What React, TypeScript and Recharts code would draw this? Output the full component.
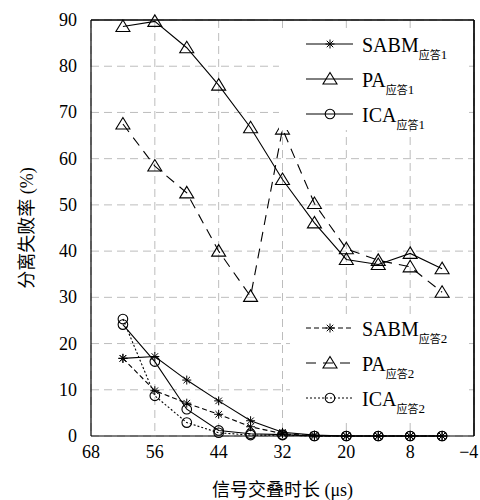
import { LineChart, Line, XAxis, YAxis, CartesianGrid, ReferenceLine } from 'recharts';

const overlapUs = [62, 56, 50, 44, 38, 32, 26, 20, 14, 8, 2];
const sabm1 = [16.8, 17.2, 12.1, 7.6, 3.3, 0.8, 0.2, 0, 0, 0, 0];
const pa1 = [88.6, 89.7, 84.0, 75.9, 66.7, 55.5, 46.1, 38.2, 37.1, 39.5, 36.2];
const ica1 = [24.1, 16.1, 5.8, 1.2, 0.5, 0.3, 0, 0, 0, 0, 0];
const sabm2 = [16.8, 9.8, 7.1, 4.7, 2.0, 0.5, 0, 0, 0, 0, 0];
const pa2 = [67.5, 58.4, 52.6, 40.0, 30.2, 66.4, 50.3, 40.5, 38.0, 36.6, 31.1];
const ica2 = [25.3, 8.7, 2.9, 0.7, 0.2, 0.2, 0, 0, 0, 0, 0];

const xTicks = [68, 56, 44, 32, 20, 8, -4];
const yTicks = [0, 10, 20, 30, 40, 50, 60, 70, 80, 90];

const data = overlapUs.map((x, i) => ({
  x,
  sabm1: sabm1[i],
  pa1: pa1[i],
  ica1: ica1[i],
  sabm2: sabm2[i],
  pa2: pa2[i],
  ica2: ica2[i],
}));

const SERIF = "'Liberation Serif', 'Noto Sans CJK SC', serif";
const CJK = "'Noto Sans CJK SC', sans-serif";

type MarkerKind = 'star' | 'tri' | 'circle';

function Marker({ kind, cx, cy }: { kind: MarkerKind; cx: number; cy: number }) {
  if (kind === 'star') {
    const r = 4.5;
    const d = r * 0.72;
    return (
      <g stroke="#000" strokeWidth={1}>
        <line x1={cx - r} y1={cy} x2={cx + r} y2={cy} />
        <line x1={cx} y1={cy - r} x2={cx} y2={cy + r} />
        <line x1={cx - d} y1={cy - d} x2={cx + d} y2={cy + d} />
        <line x1={cx - d} y1={cy + d} x2={cx + d} y2={cy - d} />
      </g>
    );
  }
  if (kind === 'tri') {
    return (
      <polygon
        points={`${cx},${cy - 6.5} ${cx - 7},${cy + 5} ${cx + 7},${cy + 5}`}
        fill="none"
        stroke="#000"
        strokeWidth={1.1}
      />
    );
  }
  return <circle cx={cx} cy={cy} r={4.8} fill="none" stroke="#000" strokeWidth={1.1} />;
}

const dotFor = (kind: MarkerKind) => (props: any) => {
  const { cx, cy, index } = props;
  if (cx == null || cy == null) return <g key={index} />;
  return (
    <g key={index}>
      <Marker kind={kind} cx={cx} cy={cy} />
    </g>
  );
};

const series = [
  { key: 'sabm1', name: 'SABM', sub: '1', kind: 'star' as MarkerKind, dash: undefined },
  { key: 'pa1', name: 'PA', sub: '1', kind: 'tri' as MarkerKind, dash: undefined },
  { key: 'ica1', name: 'ICA', sub: '1', kind: 'circle' as MarkerKind, dash: undefined },
  { key: 'sabm2', name: 'SABM', sub: '2', kind: 'star' as MarkerKind, dash: '5 3' },
  { key: 'pa2', name: 'PA', sub: '2', kind: 'tri' as MarkerKind, dash: '10 7' },
  { key: 'ica2', name: 'ICA', sub: '2', kind: 'circle' as MarkerKind, dash: '2 2' },
];

function LegendBox({ items, x, y, w, h, rowY }: any) {
  return (
    <g>
      <rect x={x} y={y} width={w} height={h} fill="#fff" />
      {items.map((s: any, i: number) => {
        const cy = rowY + i * 35;
        return (
          <g key={s.key}>
            <line x1={306} y1={cy} x2={353} y2={cy} stroke="#000" strokeWidth={1} strokeDasharray={s.dash} />
            <Marker kind={s.kind} cx={330} cy={cy} />
            <text x={362} y={cy + 7.5} fontFamily={SERIF} fontSize={20} fill="#000">
              {s.name}
              <tspan dy={7} fontFamily={CJK} fontSize={11}>应答</tspan>
              <tspan fontFamily={SERIF} fontSize={13}>{s.sub}</tspan>
            </text>
          </g>
        );
      })}
    </g>
  );
}

// last tick sits on the right edge, keep it inside the page
const XTick = (props: any) => {
  const { x, y, payload } = props;
  const v = payload.value as number;
  const last = v === xTicks[xTicks.length - 1];
  return (
    <text
      x={last ? x + 5 : x}
      y={y + 12}
      textAnchor={last ? 'end' : 'middle'}
      fontFamily={SERIF}
      fontSize={18}
      fill="#000"
    >
      {v < 0 ? `\u2212${-v}` : `${v}`}
    </text>
  );
};

const YTick = (props: any) => {
  const { x, y, payload } = props;
  return (
    <text x={x} y={y + 6} textAnchor="end" fontFamily={SERIF} fontSize={18} fill="#000">
      {payload.value}
    </text>
  );
};

export default function App() {
  return (
    <div
      style={{
        position: 'absolute',
        left: 0,
        top: 0,
        width: 480,
        height: 500,
        background: '#fff',
        fontFamily: SERIF,
      }}
    >
      <LineChart
        width={480}
        height={500}
        data={data}
        margin={{ top: 20, right: 6, left: 0, bottom: 0 }}
      >
        <CartesianGrid
          xAxisId="bottom"
          yAxisId="left"
          stroke="#bdbdbd"
          strokeDasharray="8 5"
        />
        <XAxis
          xAxisId="bottom"
          dataKey="x"
          type="number"
          domain={[-4, 68]}
          reversed
          ticks={xTicks}
          height={64}
          axisLine={{ stroke: '#000', strokeWidth: 1.2 }}
          tickLine={false}
          tickSize={6}
          tickMargin={4}
          tick={<XTick />}
          label={{
            value: '信号交叠时长 (μs)',
            position: 'insideBottom',
            offset: 4,
            style: { fill: '#000', fontSize: 18, fontFamily: SERIF },
          }}
        />
        <XAxis
          xAxisId="top"
          dataKey="x"
          type="number"
          domain={[-4, 68]}
          allowDataOverflow
          reversed
          orientation="top"
          ticks={xTicks}
          height={1}
          mirror
          tick={false}
          tickSize={6}
          axisLine={{ stroke: '#000', strokeWidth: 1.2 }}
          tickLine={{ stroke: '#000' }}
        />
        <YAxis
          yAxisId="left"
          domain={[0, 90]}
          ticks={yTicks}
          width={91}
          axisLine={{ stroke: '#000', strokeWidth: 1.2 }}
          tickLine={false}
          tickSize={6}
          tickMargin={8}
          tick={<YTick />}
          label={{
            value: '分离失败率 (%)',
            angle: -90,
            position: 'insideLeft',
            offset: 27,
            style: { textAnchor: 'middle', fill: '#000', fontSize: 18, fontFamily: SERIF },
          }}
        />
        <YAxis
          yAxisId="right"
          orientation="right"
          domain={[0, 90]}
          allowDataOverflow
          ticks={yTicks}
          width={1}
          mirror
          tick={false}
          tickSize={6}
          axisLine={{ stroke: '#000', strokeWidth: 1.2 }}
          tickLine={{ stroke: '#000' }}
        />
        <ReferenceLine xAxisId="bottom" yAxisId="left" y={90} stroke="#000" strokeWidth={1.2} />
        <ReferenceLine xAxisId="bottom" yAxisId="left" x={-4} stroke="#000" strokeWidth={1.2} />
        {series.map((s) => (
          <Line
            key={s.key}
            xAxisId="bottom"
            yAxisId="left"
            dataKey={s.key}
            type="linear"
            stroke="#000"
            strokeWidth={1.1}
            strokeDasharray={s.dash}
            dot={dotFor(s.kind)}
            activeDot={false}
            isAnimationActive={false}
          />
        ))}
      </LineChart>
      <svg
        width={480}
        height={500}
        style={{ position: 'absolute', left: 0, top: 0, pointerEvents: 'none' }}
      >
        <LegendBox items={series.slice(0, 3)} x={279} y={28} w={190} h={102} rowY={44} />
        <LegendBox items={series.slice(3)} x={290} y={314} w={179} h={104} rowY={328} />
      </svg>
    </div>
  );
}
